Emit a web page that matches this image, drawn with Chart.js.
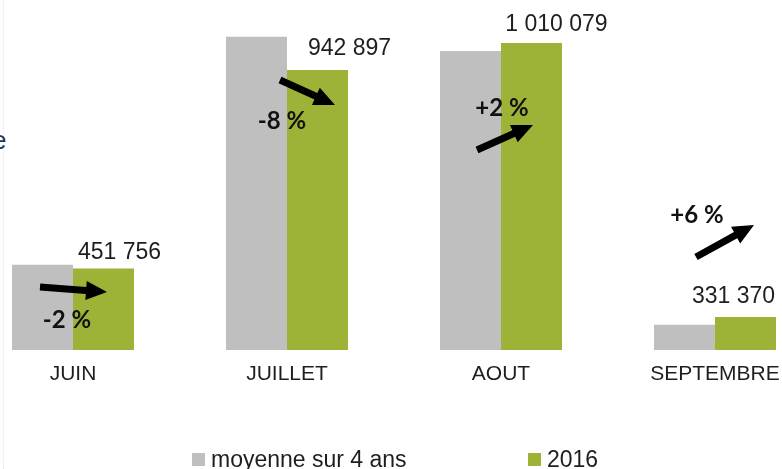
<!DOCTYPE html>
<html>
<head>
<meta charset="utf-8">
<script src="https://cdn.jsdelivr.net/npm/chart.js@4.4.0/dist/chart.umd.min.js"></script>
<style>
  html, body { margin: 0; padding: 0; background: #fff; }
  body { width: 782px; height: 469px; overflow: hidden; position: relative; font-family: "Liberation Sans", Arial, sans-serif; }
  #wrap { position: absolute; left: -34px; top: 0; width: 856px; height: 469px; }
  #edge { position: absolute; left: 3px; top: 0; height: 469px; border-left: 1px dotted #e4e4e4; }
  #cut { position: absolute; left: -8px; top: 127px; font-size: 26px; line-height: 26px; color: #1f3864; }
  .lg-box { position: absolute; width: 13px; height: 13px; top: 453px; }
  .lg-text { position: absolute; top: 445px; font-size: 23px; line-height: 28px; color: #1e1e1e; white-space: nowrap; }
</style>
</head>
<body>
<div id="edge"></div>
<span id="cut">e</span>
<div id="wrap"><canvas id="ventes"></canvas></div>
<div id="legend"></div>
<script>
// === Fréquentation été 2016 vs moyenne 4 ans ===

const months = ['JUIN', 'JUILLET', 'AOUT', 'SEPTEMBRE'];
const moyenne4ans = [461000, 1025000, 990000, 312600];
const values2016 = [451756, 942897, 1010079, 331370];
const evolution = ['-2 %', '-8 %', '+2 %', '+6 %'];
const seriesNames = ['moyenne sur 4 ans', '2016'];
const seriesColors = ['#bfbfbf', '#9cb337'];

// offsets in px: value label (from green bar top), arrow tail/tip and % label (from category centre / baseline)
const valueLabelOffset = [[16, -16], [32, -21], [25, -18], [-12, -20]];
const arrowLayout = [
  { tail: [-33, -63], tip: [34, -58], label: [-6, -30] },
  { tail: [-7, -270], tip: [48, -245], label: [-5, -229] },
  { tail: [-24, -200], tip: [32, -225], label: [1, -242] },
  { tail: [-19, -93], tip: [39, -125], label: [-18, -135] }
];
const legendLeft = [192, 528];

const fmt = v => String(v).replace(/\B(?=(\d{3})+(?!\d))/g, ' ');

function drawArrow(ctx, x1, y1, x2, y2) {
  const a = Math.atan2(y2 - y1, x2 - x1);
  const len = Math.hypot(x2 - x1, y2 - y1);
  ctx.save();
  ctx.translate(x1, y1);
  ctx.rotate(a);
  ctx.beginPath();
  ctx.moveTo(0, -3.5);
  ctx.lineTo(len - 21, -3.5);
  ctx.lineTo(len - 21, -9.5);
  ctx.lineTo(len, 0);
  ctx.lineTo(len - 21, 9.5);
  ctx.lineTo(len - 21, 3.5);
  ctx.lineTo(0, 3.5);
  ctx.closePath();
  ctx.fill();
  ctx.restore();
}

const annotate = {
  id: 'annotate',
  afterDatasetsDraw(chart) {
    const { ctx, chartArea } = chart;
    const xScale = chart.scales.x;
    const bars2016 = chart.getDatasetMeta(1).data;
    ctx.save();
    ctx.textAlign = 'center';
    ctx.textBaseline = 'middle';
    bars2016.forEach((bar, i) => {
      ctx.fillStyle = '#1e1e1e';
      ctx.font = '23px "Liberation Sans", Arial, sans-serif';
      const off = valueLabelOffset[i];
      ctx.fillText(fmt(values2016[i]), bar.x + off[0], bar.y + off[1]);

      const cx = xScale.getPixelForValue(i);
      const base = chartArea.bottom;
      const a = arrowLayout[i];
      ctx.fillStyle = '#000';
      drawArrow(ctx, cx + a.tail[0], base + a.tail[1], cx + a.tip[0], base + a.tip[1]);
      ctx.fillStyle = '#111';
      ctx.font = 'bold 24px Lato, "Liberation Sans", sans-serif';
      ctx.fillText(evolution[i], cx + a.label[0], base + a.label[1]);
    });
    ctx.restore();
  }
};

const ctx = document.getElementById('ventes').getContext('2d');
const chart = new Chart(ctx, {
  type: 'bar',
  data: {
    labels: months,
    datasets: [
      { label: seriesNames[0], data: moyenne4ans, backgroundColor: seriesColors[0], borderWidth: 0,
        barPercentage: 1, categoryPercentage: 0.57 },
      { label: seriesNames[1], data: values2016, backgroundColor: seriesColors[1], borderWidth: 0,
        barPercentage: 1, categoryPercentage: 0.57 }
    ]
  },
  options: {
    responsive: true,
    maintainAspectRatio: false,
    animation: false,
    layout: { padding: { top: 10, bottom: 69.8, left: 0, right: 0 } },
    plugins: { legend: { display: false }, tooltip: { enabled: false } },
    scales: {
      x: {
        grid: { display: false, drawTicks: false },
        border: { display: false },
        ticks: { color: '#1e1e1e', padding: 12, font: { family: '"Liberation Sans", Arial, sans-serif', size: 21 } }
      },
      y: { display: false, min: 250000, max: 1091500 }
    }
  },
  plugins: [annotate]
});

// legend built from the datasets
const legend = document.getElementById('legend');
chart.data.datasets.forEach((ds, i) => {
  const box = document.createElement('div');
  box.className = 'lg-box';
  box.style.left = legendLeft[i] + 'px';
  box.style.background = ds.backgroundColor;
  const txt = document.createElement('div');
  txt.className = 'lg-text';
  txt.style.left = (legendLeft[i] + 19) + 'px';
  txt.textContent = ds.label;
  legend.appendChild(box);
  legend.appendChild(txt);
});
</script>
</body>
</html>
